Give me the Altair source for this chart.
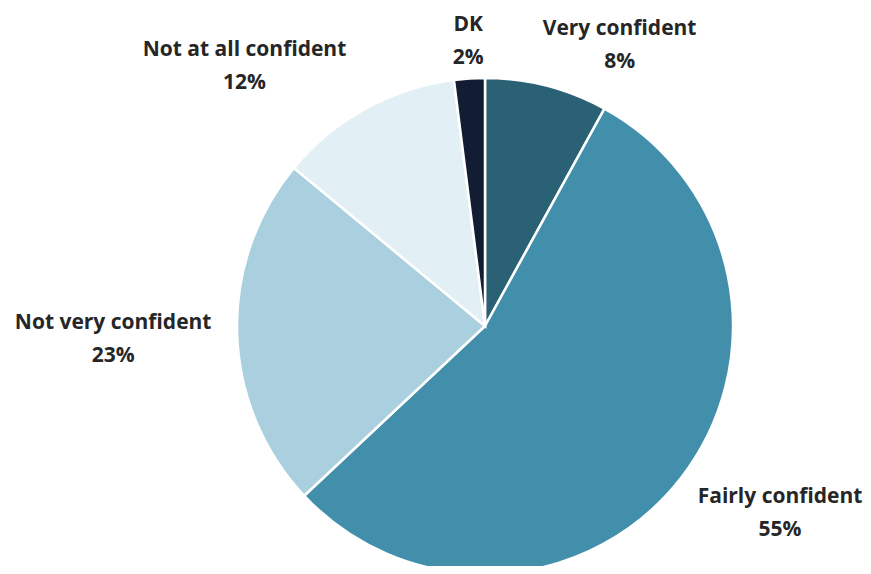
import altair as alt
import pandas as pd

categories = ["Very confident", "Fairly confident", "Not very confident", "Not at all confident", "DK"]
values = [8, 55, 23, 12, 2]
colors = ["#2b6174", "#428fac", "#aad0df", "#e2eff5", "#121d33"]
# label nudges (pixels) relative to the slice mid-angle anchor
label_dx = [60, 58, -72, -96, 2]
label_dy = [-6, -13, -12, -13, -2]

df = pd.DataFrame({"category": categories, "value": values, "idx": list(range(len(categories)))})

CX, CY = 477, 318
R = 248
LR = 300
theta_scale = alt.Scale(domain=[0, 100])

base = alt.Chart(df)

arcs = base.mark_arc(outerRadius=R, stroke="white", strokeWidth=2.5).encode(
    theta=alt.Theta("value:Q", stack=True, scale=theta_scale),
    color=alt.Color("category:N", scale=alt.Scale(domain=categories, range=colors), legend=None),
    order=alt.Order("idx:Q"),
    x=alt.value(CX),
    y=alt.value(CY),
)

texts = []
for i, cat in enumerate(categories):
    t = (
        base.transform_window(cum="sum(value)", sort=[alt.SortField("idx")], frame=[None, 0])
        .transform_calculate(mid="datum.cum - datum.value/2",
                             label="datum.category + '\\n' + datum.value + '%'")
        .transform_filter(alt.datum.category == cat)
        .mark_text(radius=LR, font="Open Sans", fontWeight="bold", fontSize=21, lineHeight=33,
                   lineBreak="\n", color="#262626", align="center", baseline="middle",
                   dx=label_dx[i], dy=label_dy[i])
        .encode(theta=alt.Theta("mid:Q", stack=None, scale=theta_scale),
                text="label:N", x=alt.value(CX), y=alt.value(CY))
    )
    texts.append(t)

chart = alt.layer(arcs, *texts).properties(
    width=855, height=558, autosize="none", padding=0
).configure_view(stroke=None)

chart.save("out.html", embed_options={"renderer": "svg", "actions": False})
